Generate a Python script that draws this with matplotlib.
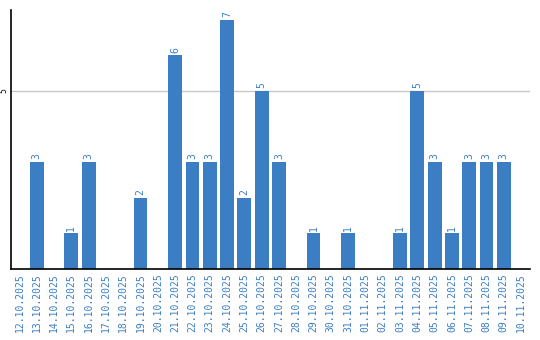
import numpy as np
import matplotlib.pyplot as plt

dates = ["12.10.2025", "13.10.2025", "14.10.2025", "15.10.2025", "16.10.2025",
         "17.10.2025", "18.10.2025", "19.10.2025", "20.10.2025", "21.10.2025",
         "22.10.2025", "23.10.2025", "24.10.2025", "25.10.2025", "26.10.2025",
         "27.10.2025", "28.10.2025", "29.10.2025", "30.10.2025", "31.10.2025",
         "01.11.2025", "02.11.2025", "03.11.2025", "04.11.2025", "05.11.2025",
         "06.11.2025", "07.11.2025", "08.11.2025", "09.11.2025", "10.11.2025"]
counts = [0, 3, 0, 1, 3, 0, 0, 2, 0, 6, 3, 3, 7, 2, 5, 3, 0, 1, 0, 1,
          0, 0, 1, 5, 3, 1, 3, 3, 3, 0]

blue = "#3b7ec3"

fig = plt.figure(figsize=(5.4, 3.4), dpi=100)
ax = fig.add_axes([0.02, 0.209, 0.961, 0.762])

x = np.arange(len(dates))
bars = ax.bar(x, counts, width=0.8, color=blue, zorder=2)

# value labels above non-empty bars
for xi, c in zip(x, counts):
    if c > 0:
        ax.text(xi, c + 0.08, str(c), rotation=90, ha="center", va="bottom",
                color=blue, fontsize=7, family="DejaVu Sans Mono")

ax.set_xlim(-0.5, len(dates) - 0.5)
ax.set_ylim(0, 7.28)
ax.set_xticks(x)
ax.set_xticklabels(dates, rotation=90, color=blue, fontsize=7,
                   family="DejaVu Sans Mono")
ax.set_yticks([5])
ax.set_yticklabels(["5"], rotation=90, fontsize=5.5, va="center")
ax.tick_params(axis="x", length=0, pad=3)
ax.tick_params(axis="y", length=0, pad=1.5)
ax.yaxis.grid(True, color="#c8c8c8", linewidth=1, zorder=0)
ax.set_axisbelow(True)

for s in ["top", "right"]:
    ax.spines[s].set_visible(False)
ax.spines["left"].set_linewidth(1.2)
ax.spines["bottom"].set_linewidth(1.2)

fig.savefig("out.png", dpi=100)
